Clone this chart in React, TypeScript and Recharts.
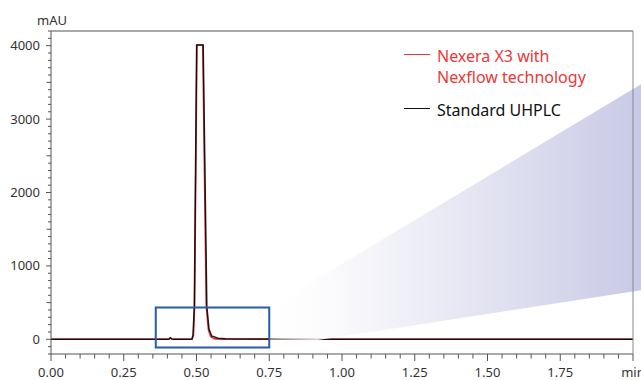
import React from 'react';
import {
  LineChart,
  Line,
  XAxis,
  YAxis,
  ReferenceArea,
  ReferenceLine,
  Legend,
} from 'recharts';

// Standard UHPLC trace (black)
const stdTime = [0, 0.4, 0.406, 0.41, 0.415, 0.42, 0.47, 0.484, 0.488, 0.4925, 0.5005, 0.523, 0.5355, 0.543, 0.552, 0.574, 0.6, 0.7, 0.76, 0.8, 2.0];
const stdSignal = [0, 0, 6, 22, 6, 2, 2, 3, 60, 450, 4010, 4010, 450, 140, 45, 15, 8, 6, 3, 0, 0];

// Nexera X3 with Nexflow technology trace (red)
const nexTime = [0, 0.4, 0.406, 0.41, 0.415, 0.42, 0.485, 0.4895, 0.4935, 0.5015, 0.5215, 0.5335, 0.541, 0.549, 0.562, 0.6, 2.0];
const nexSignal = [0, 0, 4, 15, 4, 0, 0, 50, 450, 4010, 4010, 450, 130, 35, 6, 0, 0];

const majorXTicks = [0, 0.25, 0.5, 0.75, 1, 1.25, 1.5, 1.75, 2];
const xTickLabels = ['0.00', '0.25', '0.50', '0.75', '1.00', '1.25', '1.50', '1.75', 'min'];
const xTicks = Array.from({ length: 41 }, (_, i) => +(i * 0.05).toFixed(2));

const yLabelTicks = [0, 1000, 2000, 3000, 4000];
const yTicks = Array.from({ length: 45 }, (_, i) => -200 + i * 100);

// zoom box and the fan that opens from it
const zoomBox = { x1: 0.36, x2: 0.75, y1: -110, y2: 435 };
const fan = { x2: 2.03, top: 3480, bottom: 670 };

const legendItems = [
  { lines: ['Nexera X3 with', 'Nexflow technology'], color: '#e53935', text: '#e8383a' },
  { lines: ['Standard UHPLC'], color: '#111', text: '#111' },
];

const stdData = stdTime.map((t, i) => ({ t, v: stdSignal[i] }));
const nexData = nexTime.map((t, i) => ({ t, v: nexSignal[i] }));

const FONT = '"Noto Sans", "Open Sans", sans-serif';
const AXIS = '#555';

const XTick = (props: any) => {
  const { x, y, payload } = props;
  const idx = majorXTicks.findIndex((m) => Math.abs(m - payload.value) < 1e-6);
  const major = idx >= 0;
  return (
    <g>
      <line x1={x} x2={x} y1={y} y2={y + (major ? 7 : 4.5)} stroke={AXIS} />
      {major && (
        <text x={x} y={y + 23} textAnchor="middle" fontSize={13} fill="#333" fontFamily={FONT}>
          {xTickLabels[idx]}
        </text>
      )}
    </g>
  );
};

const YTick = (props: any) => {
  const { x, y, payload } = props;
  const v = payload.value;
  const major = yLabelTicks.includes(v);
  const len = major ? 5 : v % 500 === 0 ? 4.5 : 3;
  return (
    <g>
      <line x1={x - len} x2={x} y1={y} y2={y} stroke={AXIS} />
      {major && (
        <text x={x - 11} y={y + 4.5} textAnchor="end" fontSize={13} fill="#333" fontFamily={FONT}>
          {v}
        </text>
      )}
    </g>
  );
};

const FanShape = (props: any) => {
  const { x, y, width, height } = props;
  const span = fan.top - zoomBox.y1;
  const py = (v: number) => y + (height * (fan.top - v)) / span;
  const pts = [
    [x, py(zoomBox.y2)],
    [x + width, y],
    [x + width, py(fan.bottom)],
    [x, y + height],
  ]
    .map((p) => p.join(','))
    .join(' ');
  return (
    <g>
      <defs>
        <linearGradient id="fanGrad" x1="0" y1="0" x2="1" y2="0">
          <stop offset="0" stopColor="#ffffff" stopOpacity={0.45} />
          <stop offset="0.15" stopColor="#fbfbfd" stopOpacity={0.9} />
          <stop offset="1" stopColor="#c8c9e5" stopOpacity={1} />
        </linearGradient>
      </defs>
      <polygon points={pts} fill="url(#fanGrad)" />
    </g>
  );
};

const renderLegend = () => (
  <div style={{ fontFamily: FONT, fontSize: 16, lineHeight: '21px' }}>
    {legendItems.map((item, i) => (
      <div key={i} style={{ display: 'flex', marginBottom: 12 }}>
        <div style={{ width: 26, height: 1.4, background: item.color, marginTop: 8, marginRight: 7 }} />
        <div style={{ color: item.text }}>
          {item.lines.map((l) => (
            <div key={l}>{l}</div>
          ))}
        </div>
      </div>
    ))}
  </div>
);

export default function App() {
  return (
    <div style={{ position: 'absolute', left: 0, top: 0, width: 641, height: 380, background: '#fff' }}>
      <LineChart width={641} height={380} margin={{ top: 31, right: 8, bottom: 0, left: 0 }}>
        <XAxis
          dataKey="t"
          type="number"
          domain={[0, 2]}
          ticks={xTicks}
          interval={0}
          tick={<XTick />}
          tickLine={false}
          tickSize={0}
          tickMargin={0}
          height={26}
          axisLine={{ stroke: AXIS }}
          allowDuplicatedCategory={false}
        />
        <YAxis
          type="number"
          domain={[-200, 4200]}
          ticks={yTicks}
          interval={0}
          tick={<YTick />}
          tickLine={false}
          tickSize={0}
          tickMargin={0}
          width={51}
          axisLine={{ stroke: AXIS }}
          label={{
            content: (p: any) => (
              <text
                x={p.viewBox.x + p.viewBox.width - 14}
                y={p.viewBox.y - 6}
                fontSize={13}
                fill="#333"
                fontFamily={FONT}
              >
                mAU
              </text>
            ),
          }}
        />
        <Line
          data={nexData}
          dataKey="v"
          name="Nexera X3 with Nexflow technology"
          type="linear"
          stroke="#e53935"
          strokeWidth={1.6}
          dot={false}
          isAnimationActive={false}
        />
        <Line
          data={stdData}
          dataKey="v"
          name="Standard UHPLC"
          type="linear"
          stroke="#000"
          strokeOpacity={0.85}
          strokeWidth={1.5}
          dot={false}
          isAnimationActive={false}
        />
        <ReferenceArea
          x1={zoomBox.x2}
          x2={fan.x2}
          y1={zoomBox.y1}
          y2={fan.top}
          ifOverflow="visible"
          shape={<FanShape />}
          zIndex={900}
        />
        <ReferenceArea
          x1={zoomBox.x1}
          x2={zoomBox.x2}
          y1={zoomBox.y1}
          y2={zoomBox.y2}
          ifOverflow="visible"
          fill="none"
          fillOpacity={0}
          stroke="#2b5ba8"
          strokeWidth={2}
          zIndex={950}
        />
        <ReferenceLine y={4200} stroke={AXIS} ifOverflow="visible" zIndex={960} />
        <ReferenceLine x={2} stroke="#888" ifOverflow="visible" zIndex={960} />
        <Legend
          layout="vertical"
          align="center"
          verticalAlign="middle"
          content={renderLegend}
          wrapperStyle={{ position: 'absolute', left: 404, top: 46, width: 236 }}
        />
      </LineChart>
    </div>
  );
}
